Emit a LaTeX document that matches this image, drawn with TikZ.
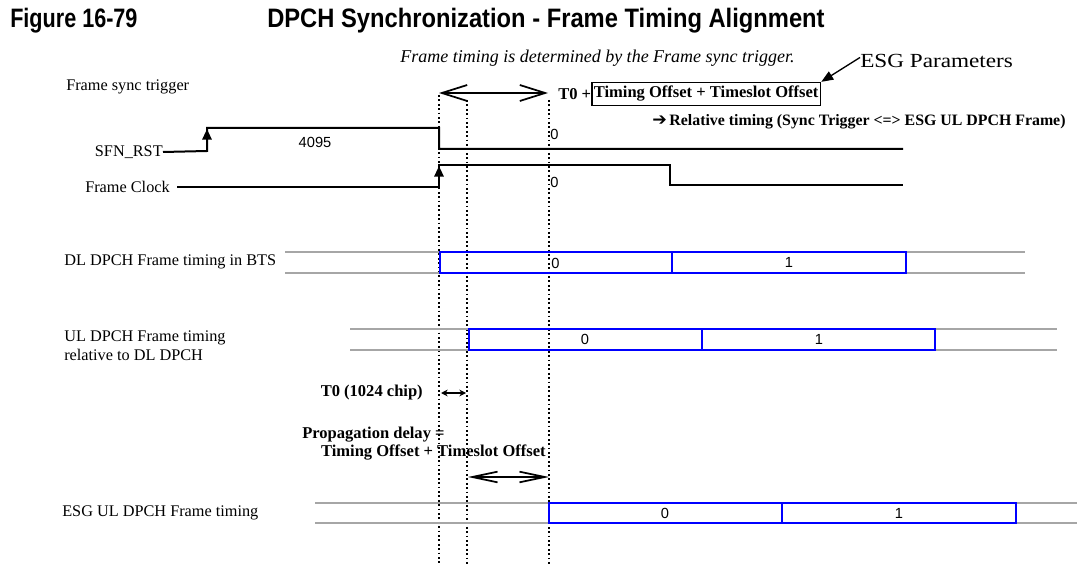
\documentclass[tikz,border=0pt]{standalone}
\usepackage{fontspec}
\setmainfont{Liberation Serif}
\setsansfont{Liberation Sans}
\newfontfamily\symfont{DejaVu Sans}
\usetikzlibrary{arrows.meta}

\begin{document}
\begin{tikzpicture}[x=0.75pt,y=-0.75pt,
    lbl/.style={font=\fontsize{12.2}{14}\selectfont, inner sep=0pt, anchor=west},
    bold/.style={font=\bfseries\fontsize{12.4}{14}\selectfont, inner sep=0pt},
    num/.style={font=\sffamily\fontsize{11}{13}\selectfont, inner sep=0pt},
    sig/.style={line width=1.5pt},
    guide/.style={line width=1.3pt, dotted},
    slot/.style={draw=blue, line width=1.6pt},
    idle/.style={draw=gray!70, line width=1.5pt},
    barb/.style={line width=1.3pt, {Straight Barb[length=19pt,width=12pt]}-{Straight Barb[length=19pt,width=12pt]}},
    thinbarb/.style={line width=1.3pt, {Straight Barb[length=19pt,width=8pt]}-{Straight Barb[length=19pt,width=8pt]}},
    rise/.style={line width=1.5pt, -{Triangle[length=8pt,width=7pt]}}
]
\useasboundingbox (0,0) rectangle (1077,566);

% Titles
\node[anchor=west, inner sep=0pt, font=\sffamily\bfseries\fontsize{20}{24}\selectfont] (fig) at (10,21) {\scalebox{0.81}[1]{Figure 16-79}};
\node[anchor=west, inner sep=0pt, font=\sffamily\bfseries\fontsize{20}{24}\selectfont] (title) at (267,21) {\scalebox{0.89}[1]{DPCH Synchronization - Frame Timing Alignment}};
\node[anchor=west, inner sep=0pt, font=\itshape\fontsize{13.5}{16}\selectfont] (note) at (400,58) {Frame timing is determined by the Frame sync trigger.};
\node[anchor=base west, inner sep=0pt, font=\fontsize{15}{18}\selectfont] (esg) at (860,68) {\scalebox{1.16}[1]{ESG Parameters}};

% Frame sync trigger
\node[lbl] (trig) at (66,87) {Frame sync trigger};
\coordinate (t0) at (439,93);
\coordinate (t1) at (548,93);
\draw[barb] (t0) -- (t1);
\node[bold, anchor=west] (tplus) at (558,94) {T0 +};
\node[bold, draw, line width=1.2pt, minimum height=17pt, inner sep=1.5pt, anchor=west] (offs) at (591,94) {Timing Offset + Timeslot Offset};
\draw[line width=1pt, -{Triangle[length=9pt,width=7pt]}] (esg.west) ++(0,-4) -- (offs.north east);
\node[anchor=west, inner sep=0pt, font=\bfseries\fontsize{11.9}{13}\selectfont] (rel) at (652,122) {{\symfont\fontsize{13}{13}\selectfont ➔}\,Relative timing (Sync Trigger <=> ESG UL DPCH Frame)};

% SFN_RST
\node[lbl, anchor=east] (sfn) at (163,152) {SFN\_RST};
\draw[sig] (sfn.east) -- (207,151) -- (207,128) -- (439,128) -- (439,149) -- (903,149);
\draw[rise] (207,151) -- (207,129);
\node[num] (cnt) at (315,142) {4095};
\node[num, anchor=west] (sfn0) at (550,134) {0};

% Frame Clock
\node[lbl, anchor=east] (clk) at (170,187) {Frame Clock};
\draw[sig] (177,187) -- (439,187) -- (439,165) -- (670,165) -- (670,185) -- (903,185);
\draw[rise] (439,187) -- (439,166);
\node[num, anchor=west] (clk0) at (550,182) {0};

% dotted guides
\draw[guide] (439,95) -- (439,566);
\draw[guide] (467,100) -- (467,566);
\draw[guide] (549,100) -- (549,566);

% DL DPCH
\node[lbl] (dl) at (64,262) {DL DPCH Frame timing in BTS};
\draw[idle] (285,252) -- (440,252) (285,273) -- (440,273);
\draw[idle] (906,252) -- (1025,252) (906,273) -- (1025,273);
\draw[slot] (440,252) rectangle (672,273) (672,252) rectangle (906,273);
\node[num, anchor=west] (dl0) at (551,263) {0};
\node[num] (dl1) at (789,262.5) {1};

% UL DPCH
\node[lbl] (ul) at (64,338) {UL DPCH Frame timing};
\node[lbl] (ulb) at (64,355) {relative to DL DPCH};
\draw[idle] (350,329) -- (469,329) (350,350) -- (469,350);
\draw[idle] (935,329) -- (1057,329) (935,350) -- (1057,350);
\draw[slot] (469,329) rectangle (702,350) (702,329) rectangle (935,350);
\node[num] (ul0) at (585,339.5) {0};
\node[num] (ul1) at (819,339.5) {1};

% T0 and propagation delay
\node[bold, anchor=east] (tzero) at (423,393) {T0 (1024 chip)};
\draw[line width=1.2pt, {Stealth[length=5pt,width=5pt]}-{Stealth[length=5pt,width=5pt]}] (441,393) -- (466,393);
\node[bold, anchor=west] (prop) at (302,435) {Propagation delay =};
\node[bold, anchor=east] (propb) at (546,453) {Timing Offset + Timeslot Offset};
\coordinate (p0) at (468,477);
\coordinate (p1) at (549,477);
\draw[thinbarb] (p0) -- (p1);

% ESG UL DPCH
\node[lbl] (esgul) at (62,513) {ESG UL DPCH Frame timing};
\draw[idle] (315,503) -- (549,503) (315,523) -- (549,523);
\draw[idle] (1016,503) -- (1077,503) (1016,523) -- (1077,523);
\draw[slot] (549,503) rectangle (782,523) (782,503) rectangle (1016,523);
\node[num] (es0) at (665,513) {0};
\node[num] (es1) at (899,513) {1};

\end{tikzpicture}
\end{document}
